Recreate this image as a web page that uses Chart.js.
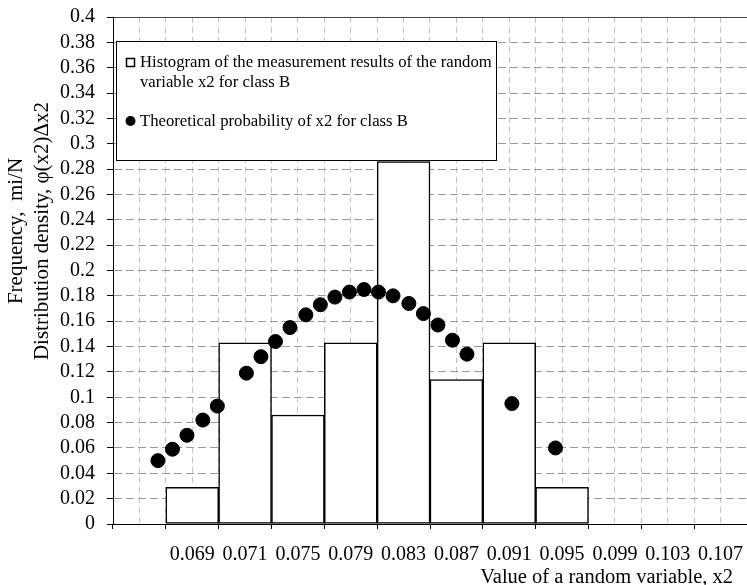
<!DOCTYPE html>
<html>
<head>
<meta charset="utf-8">
<script src="https://cdn.jsdelivr.net/npm/chart.js@4.4.1/dist/chart.umd.min.js"></script>
<style>
  html, body { margin: 0; padding: 0; background: #fff; }
  #wrap { position: relative; width: 747px; height: 585px; }
</style>
</head>
<body>
<div id="wrap"><canvas id="chart"></canvas></div>
<script>
// histogram of x2 (class B) + theoretical probability points

const xTickLabels = ["", "0.069", "0.071", "0.075", "0.079", "0.083", "0.087", "0.091", "0.095", "0.099", "0.103", "0.107"];
const histFreq = [null, 0.029, 0.143, 0.086, 0.143, 0.286, 0.114, 0.143, 0.029, null, null, null];

const theoryX = [0.0644, 0.0655, 0.0666, 0.0678, 0.0689, 0.0711, 0.0722, 0.0733, 0.0744, 0.0756, 0.0767, 0.0778,
                 0.0789, 0.0800, 0.0811, 0.0822, 0.0834, 0.0845, 0.0856, 0.0867, 0.0878, 0.0912, 0.0945];
const theoryP = [0.050, 0.059, 0.070, 0.082, 0.093, 0.119, 0.132, 0.144, 0.155, 0.165, 0.173, 0.179,
                 0.183, 0.185, 0.183, 0.180, 0.174, 0.166, 0.157, 0.145, 0.134, 0.095, 0.060];

// value range covered by the category axis, and the dashed grid step
const X_MIN = 0.061;
const X_MAX = 0.109;
const X_GRID_STEP = 0.002;

const histLabel = "Histogram of the measurement results of the random variable x2 for class B";
const theoryLabel = "Theoretical probability of x2 for class B";
const yTitle = ["Frequency,  mi/N", "Distribution density, \u03c6(x2)\u0394x2"];
const xTitle = "Value of a random variable, x2";

const FONT = '"Liberation Serif", "Times New Roman", serif';

// wrap text into lines no wider than maxW
function wrapText(ctx, text, maxW) {
  const words = text.split(" ");
  const lines = [];
  let line = "";
  for (const w of words) {
    const test = line ? line + " " + w : w;
    if (ctx.measureText(test).width > maxW && line) {
      lines.push(line);
      line = w;
    } else {
      line = test;
    }
  }
  if (line) lines.push(line);
  return lines;
}

// boxed legend, like the excel one
const boxLegend = {
  id: "boxLegend",
  afterDatasetsDraw(chart) {
    const ctx = chart.ctx;
    ctx.save();
    ctx.fillStyle = "#fff";
    ctx.strokeStyle = "#000";
    ctx.lineWidth = 1;
    ctx.fillRect(116.5, 41.5, 380, 119);
    ctx.strokeRect(116.5, 41.5, 380, 119);

    ctx.font = "16.7px " + FONT;
    ctx.fillStyle = "#000";
    ctx.textBaseline = "middle";
    ctx.textAlign = "left";

    // histogram item: open square
    ctx.lineWidth = 1.5;
    ctx.strokeRect(126.5, 58.5, 8, 8);
    const lines = wrapText(ctx, histLabel, 358);
    lines.forEach((l, i) => ctx.fillText(l, 140, 63 + i * 20));

    // theoretical item: dot
    ctx.beginPath();
    ctx.arc(130.5, 121, 5, 0, Math.PI * 2);
    ctx.fill();
    ctx.fillText(theoryLabel, 140, 122);
    ctx.restore();
  }
};

// axis titles, placed where the reference has them
const axisTitles = {
  id: "axisTitles",
  afterDraw(chart) {
    const ctx = chart.ctx;
    ctx.save();
    ctx.fillStyle = "#000";
    ctx.textBaseline = "middle";

    ctx.save();
    ctx.font = "21px " + FONT;
    ctx.translate(0, 231);
    ctx.rotate(-Math.PI / 2);
    ctx.textAlign = "center";
    ctx.fillText(yTitle[0], 0, 16);
    ctx.fillText(yTitle[1], 0, 42);
    ctx.restore();

    ctx.font = "20.5px " + FONT;
    ctx.textAlign = "right";
    ctx.fillText(xTitle, 733, 578);
    ctx.restore();
  }
};

const ctx = document.getElementById("chart").getContext("2d");

new Chart(ctx, {
  type: "bar",
  data: {
    labels: xTickLabels,
    datasets: [
      {
        type: "scatter",
        label: theoryLabel,
        data: theoryX.map((x, i) => ({ x, y: theoryP[i] })),
        xAxisID: "xs",
        backgroundColor: "#000",
        borderColor: "#000",
        pointRadius: 7,
        pointHoverRadius: 7,
        order: 0,
      },
      {
        label: histLabel,
        data: histFreq,
        xAxisID: "x",
        backgroundColor: "#fff",
        borderColor: "#000",
        borderWidth: 1.5,
        borderSkipped: false,
        grouped: false,
        barPercentage: 1,
        categoryPercentage: 1,
        order: 1,
      },
    ],
  },
  options: {
    responsive: true,
    maintainAspectRatio: false,
    animation: false,
    layout: { autoPadding: false, padding: { top: 17, left: 0, right: 0, bottom: 0 } },
    plugins: {
      legend: { display: false },
      tooltip: { enabled: false },
    },
    scales: {
      x: {
        type: "category",
        position: "bottom",
        offset: true,
        afterFit(s) {
          s.height = 61;
          s.paddingLeft = 0;
          s.paddingRight = 0;
        },
        grid: {
          offset: true,
          drawOnChartArea: false,
          tickLength: 5,
          tickColor: "#000",
        },
        border: { color: "#000", width: 1 },
        ticks: {
          color: "#000",
          font: { family: FONT, size: 20 },
          padding: 14,
          maxRotation: 0,
          autoSkip: false,
        },
      },
      xs: {
        type: "linear",
        position: "bottom",
        offset: false,
        min: X_MIN,
        max: X_MAX,
        afterBuildTicks(s) {
          const n = Math.round((X_MAX - X_MIN) / X_GRID_STEP);
          const t = [];
          for (let k = 0; k <= n; k++) t.push({ value: X_MIN + k * X_GRID_STEP });
          s.ticks = t;
        },
        afterFit(s) {
          s.height = 0;
          s.paddingLeft = 0;
          s.paddingRight = 0;
        },
        ticks: { display: false },
        grid: {
          offset: false,
          drawTicks: false,
          color: (c) => (c.index === 0 ? "rgba(0,0,0,0)" : "#c4c4c4"),
          lineWidth: 1,
        },
        border: { display: false, dash: [6, 4] },
      },
      y: {
        min: 0,
        max: 0.4,
        afterFit(s) {
          s.width = 113;
          s.paddingTop = 0;
          s.paddingBottom = 0;
        },
        ticks: {
          stepSize: 0.02,
          autoSkip: false,
          color: "#000",
          font: { family: FONT, size: 20 },
          padding: 12,
          callback: (v) => String(+Number(v).toFixed(2)),
        },
        grid: {
          tickLength: 6,
          tickColor: "#000",
          color: (c) => {
            if (!c.tick) return "#999";
            if (c.tick.value === 0) return "rgba(0,0,0,0)";
            if (c.tick.value >= 0.399) return "#444";
            return "#9a9a9a";
          },
        },
        border: {
          color: "#000",
          width: 1,
          dash: (c) => (c.tick && c.tick.value < 0.399 ? [8, 4] : []),
        },
      },
    },
  },
  plugins: [boxLegend, axisTitles],
});
</script>
</body>
</html>
